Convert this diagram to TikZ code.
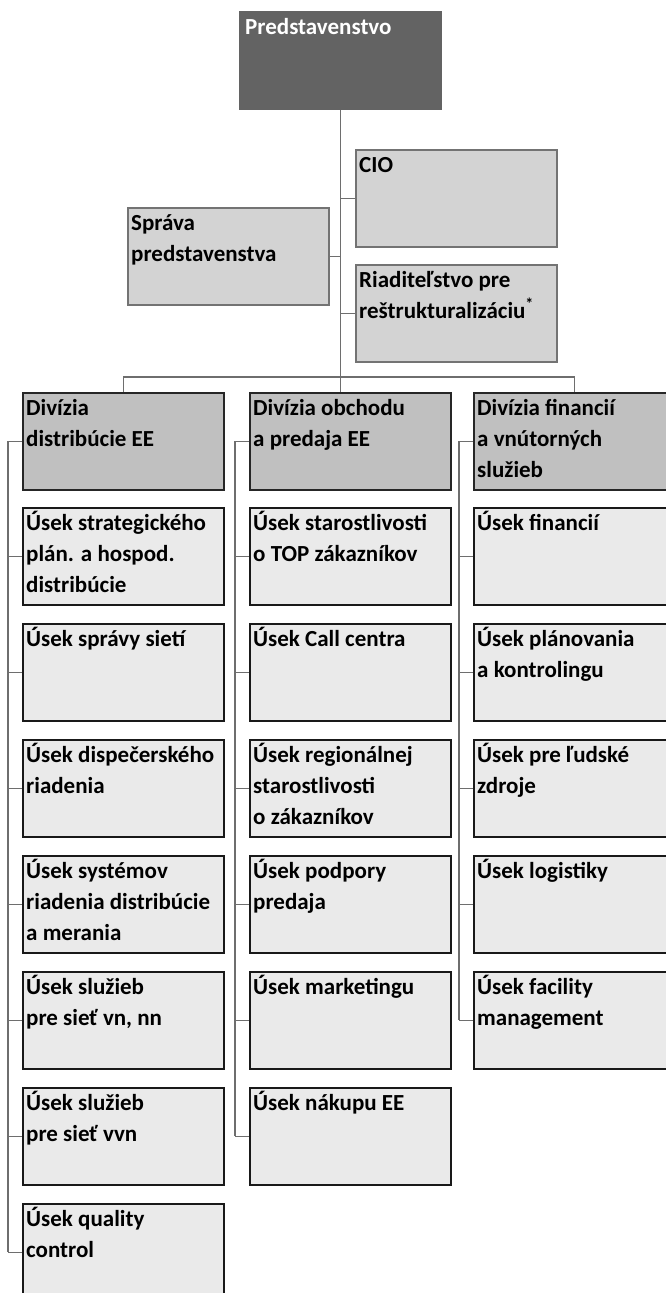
\documentclass[tikz,border=0pt]{standalone}
\usepackage{fontspec}
\setmainfont{Carlito}
\usetikzlibrary{positioning, calc}
\definecolor{orgdark}{RGB}{99,99,99}
\definecolor{orgtop}{RGB}{211,211,211}
\definecolor{orgtopline}{RGB}{115,115,115}
\definecolor{orgdiv}{RGB}{192,192,192}
\definecolor{orgsub}{RGB}{234,234,234}
\definecolor{orgline}{RGB}{110,110,110}
\newcommand{\orgstrut}{\rule{0pt}{22pt}}

\begin{document}
\begin{tikzpicture}[
    x=1pt, y=1pt,
    bx/.style={rectangle, anchor=north west, minimum width=201pt, minimum height=97pt, inner sep=0pt, line width=1.6pt},
    topb/.style={bx, fill=orgtop, draw=orgtopline},
    dv/.style={bx, fill=orgdiv, draw=black!85},
    sb/.style={bx, fill=orgsub, draw=black!90},
    txt/.style={anchor=north west, align=left, inner sep=0pt, font=\fontsize{23}{31}\selectfont\bfseries},
    lnk/.style={line width=1.5pt, orgline}
  ]
  \useasboundingbox (0,0) rectangle (666,-1293);
  \clip (0,0) rectangle (666,-1293);

  % Board and staff units
  \node[bx, fill=orgdark, draw=orgdark] (pred) at (239,-11) {};
  \node[txt, white] (pred-t) at ([shift={(6,-1)}]pred.north west) {\orgstrut Predstavenstvo};
  \node[topb] (cio) at (355,-149) {};
  \node[txt] (cio-t) at ([shift={(4,-1)}]cio.north west) {\orgstrut CIO};
  \node[topb] (spr) at (127,-207) {};
  \node[txt] (spr-t) at ([shift={(4,-1)}]spr.north west) {\orgstrut Správa\\predstavenstva};
  \node[topb] (rst) at (355,-264) {};
  \node[txt] (rst-t) at ([shift={(4,-1)}]rst.north west) {\orgstrut Riaditeľstvo pre\\reštrukturalizáciu\textsuperscript{*}};

  \coordinate (bus) at (pred.south |- 0,-377);
  \draw[lnk] (pred.south) -- (bus);
  \draw[lnk] (pred.south |- cio.west) -- (cio.west);
  \draw[lnk] (pred.south |- spr.east) -- (spr.east);
  \draw[lnk] (pred.south |- rst.west) -- (rst.west);

  % Divisions
  \node[dv] (dd) at (22,-392) {};
  \node[txt] (dd-t) at ([shift={(4,-1)}]dd.north west) {\orgstrut Divízia\\distribúcie EE};
  \node[dv] (do) at (249,-392) {};
  \node[txt] (do-t) at ([shift={(4,-1)}]do.north west) {\orgstrut Divízia obchodu\\a predaja EE};
  \node[dv] (df) at (473,-392) {};
  \node[txt] (df-t) at ([shift={(4,-1)}]df.north west) {\orgstrut Divízia financií\\a vnútorných\\služieb};

  \draw[lnk] (dd.north) |- (bus);
  \draw[lnk] (df.north) |- (bus);
  \draw[lnk] (bus) -- (bus |- do.north);

  % Distribution column
  \foreach \lbl [count=\i] in {{Úsek strategického\\plán. a hospod.\\distribúcie},
      {Úsek správy sietí}, {Úsek dispečerského\\riadenia},
      {Úsek systémov\\riadenia distribúcie\\a merania}, {Úsek služieb\\pre sieť vn, nn},
      {Úsek služieb\\pre sieť vvn}, {Úsek quality\\control}} {
    \node[sb] (ds\i) at (22,{-507-116*(\i-1)}) {};
    \node[txt] (ds\i-t) at ([shift={(4,-1)}]ds\i.north west) {\orgstrut\lbl};
  }
  \coordinate (dtr) at ([xshift=-14pt]dd.west);
  \draw[lnk] (dd.west) -- (dtr) -- (dtr |- ds7.west);
  \foreach \i in {1,...,7} {
    \draw[lnk] (dtr |- ds\i.west) -- (ds\i.west);
  }

  % Sales column
  \foreach \lbl [count=\i] in {{Úsek starostlivosti\\o TOP zákazníkov},
      {Úsek Call centra}, {Úsek regionálnej\\starostlivosti\\o zákazníkov},
      {Úsek podpory\\predaja}, {Úsek marketingu}, {Úsek nákupu EE}} {
    \node[sb] (os\i) at (249,{-507-116*(\i-1)}) {};
    \node[txt] (os\i-t) at ([shift={(4,-1)}]os\i.north west) {\orgstrut\lbl};
  }
  \coordinate (otr) at ([xshift=-14pt]do.west);
  \draw[lnk] (do.west) -- (otr) -- (otr |- os6.west);
  \foreach \i in {1,...,6} {
    \draw[lnk] (otr |- os\i.west) -- (os\i.west);
  }

  % Finance column
  \foreach \lbl [count=\i] in {{Úsek financií},
      {Úsek plánovania\\a kontrolingu}, {Úsek pre ľudské\\zdroje},
      {Úsek logistiky}, {Úsek facility\\management}} {
    \node[sb] (fs\i) at (473,{-507-116*(\i-1)}) {};
    \node[txt] (fs\i-t) at ([shift={(4,-1)}]fs\i.north west) {\orgstrut\lbl};
  }
  \coordinate (ftr) at ([xshift=-14pt]df.west);
  \draw[lnk] (df.west) -- (ftr) -- (ftr |- fs5.west);
  \foreach \i in {1,...,5} {
    \draw[lnk] (ftr |- fs\i.west) -- (fs\i.west);
  }
\end{tikzpicture}
\end{document}
